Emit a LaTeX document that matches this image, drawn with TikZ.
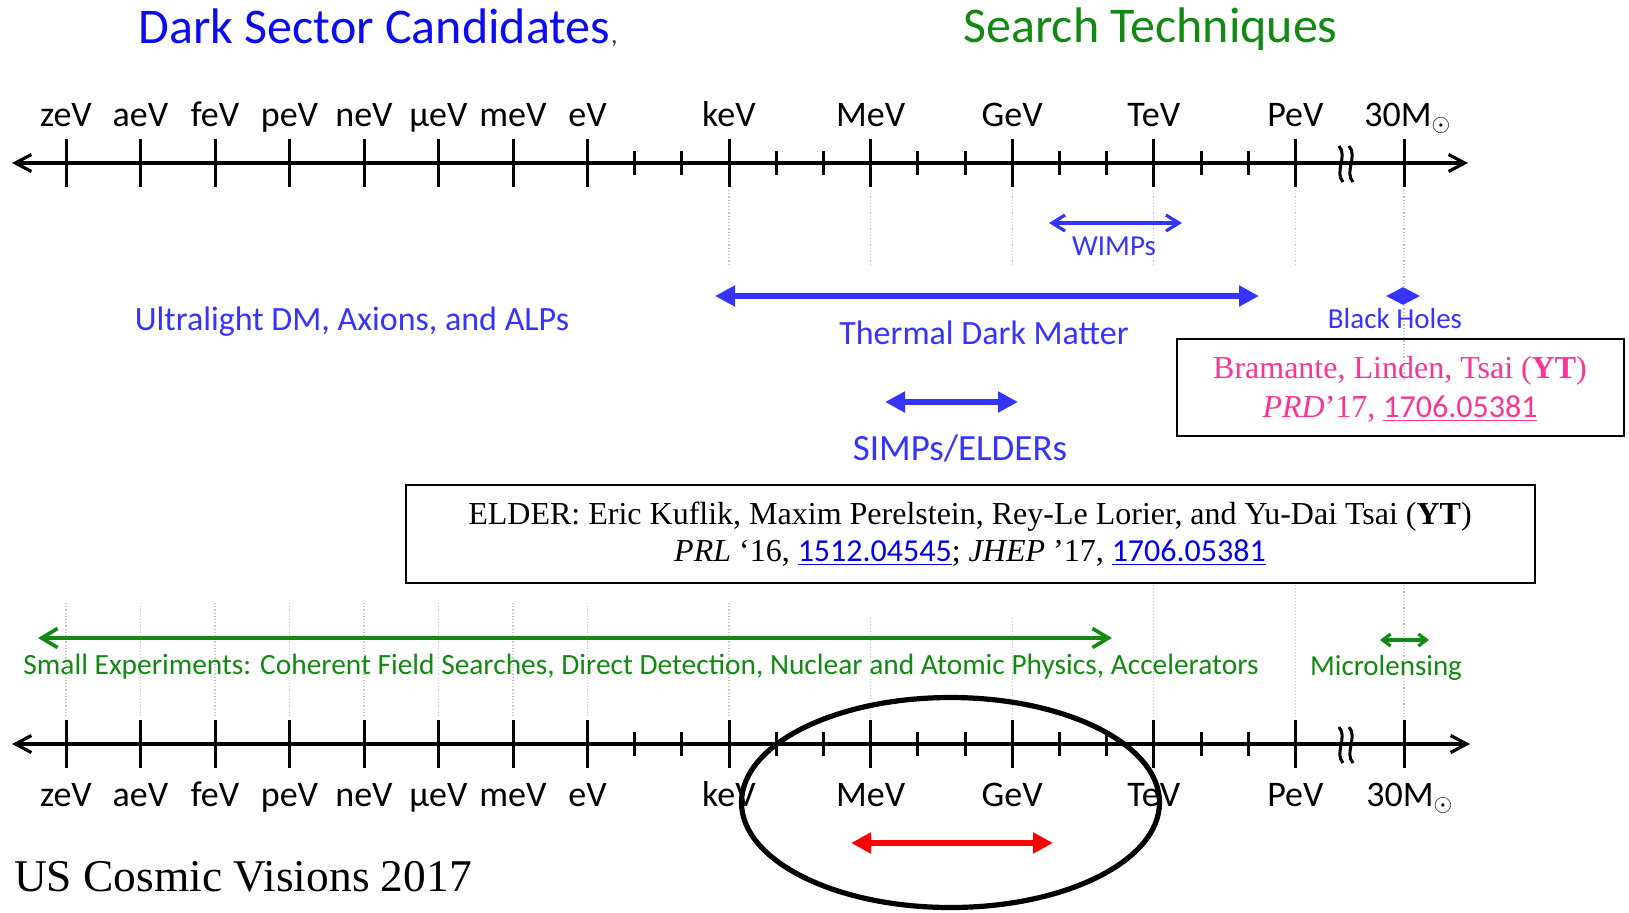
\documentclass[tikz,border=0pt]{standalone}
\usepackage{fontspec}
\setmainfont{Liberation Serif}
\newfontfamily\calibri{Carlito}
\usetikzlibrary{arrows.meta,shapes.geometric}

\definecolor{titleblue}{RGB}{12,12,240}
\definecolor{dmblue}{RGB}{52,52,252}
\definecolor{techgreen}{RGB}{18,138,18}
\definecolor{refpink}{RGB}{250,52,148}
\definecolor{linkblue}{RGB}{0,0,235}
\definecolor{guide}{RGB}{200,200,200}

\tikzset{
  axisline/.style={line width=1.6pt,
    {Straight Barb[length=8pt,width=8.5pt]}-{Straight Barb[length=8pt,width=8.5pt]}},
  tickmark/.style={line width=1.5pt},
  guideline/.style={guide, line width=0.6pt, densely dotted},
  scalelabel/.style={font=\calibri\fontsize{18}{20}\selectfont, anchor=base, inner sep=0pt},
  headline/.style={font=\calibri\fontsize{25}{30}\selectfont, anchor=base, inner sep=0pt},
  dmlabel/.style={font=\calibri\fontsize{17}{20}\selectfont, text=dmblue, anchor=base, inner sep=0pt},
  smalllabel/.style={font=\calibri\fontsize{14.5}{17}\selectfont, anchor=base, inner sep=0pt},
  thinrange/.style={line width=1.6pt,
    {Straight Barb[length=6.5pt,width=8pt]}-{Straight Barb[length=6.5pt,width=8pt]}},
  tinyrange/.style={line width=1.6pt,
    {Straight Barb[length=4pt,width=6pt]}-{Straight Barb[length=4pt,width=6pt]}},
  thickrange/.style={line width=3.4pt,
    {Triangle[length=10pt,width=10pt]}-{Triangle[length=10pt,width=10pt]}},
  refbox/.style={draw, line width=1pt, inner sep=0pt},
  reftext/.style={font=\fontsize{16}{19}\selectfont, anchor=base, inner sep=0pt},
  breakmark/.style={line width=1.5pt},
}

\begin{document}
\begin{tikzpicture}[x=0.5pt,y=-0.5pt]
\useasboundingbox (0,0) rectangle (1629,912);

% faint guide lines under the upper scale
\foreach \x in {729,870.6,1012.2,1153.8,1295.4}
  \draw[guideline] (\x,190) -- (\x,265);
\draw[guideline] (1404,190) -- (1404,380);

% faint guide lines above the lower scale
\foreach \x in {66,140.5,215,289.5,364,438.5,513,587.5,729}
  \draw[guideline] (\x,603) -- (\x,718);
\foreach \x in {870.6,1012.2}
  \draw[guideline] (\x,618) -- (\x,718);
\foreach \x in {1153.8,1295.4,1404}
  \draw[guideline] (\x,585) -- (\x,718);

% the two energy axes
\coordinate (upL) at (12,163);  \coordinate (upR) at (1468,163);
\coordinate (lowL) at (12,744); \coordinate (lowR) at (1470,744);
\draw[axisline] (upL) -- (upR);
\draw[axisline] (lowL) -- (lowR);

% decade ticks and their labels
\foreach \n/\x/\t in {zeV/66/zeV, aeV/140.5/aeV, feV/215/feV, peV/289.5/peV,
    neV/364/neV, ueV/438.5/μeV, meV/513/meV, eV/587.5/eV, keV/729/keV,
    MeV/870.6/MeV, GeV/1012.2/GeV, TeV/1153.8/TeV, PeV/1295.4/PeV} {
  \draw[tickmark] (\x,139) -- (\x,187);
  \node[scalelabel] (up-\n) at (\x,126) {\t};
  \draw[tickmark] (\x,720) -- (\x,768);
  \node[scalelabel] (low-\n) at (\x,806) {\t};
}
% intermediate ticks
\foreach \x in {634.6,681.8,776.2,823.4,917.8,965,1059.4,1106.6,1201,1248.2} {
  \draw[tickmark] (\x,151) -- (\x,175);
  \draw[tickmark] (\x,732) -- (\x,756);
}
% solar-mass tick
\draw[tickmark] (1404,139) -- (1404,187);
\draw[tickmark] (1404,720) -- (1404,768);
\node[scalelabel, anchor=base west] (up-sun) at (1364,126) {30M$_{\odot}$};
\node[scalelabel, anchor=base west] (low-sun) at (1366,806) {30M$_{\odot}$};

% axis breaks
\foreach \x in {1341,1351} {
  \draw[breakmark] (\x-2,146) .. controls (\x+7,156) and (\x-7,172) .. (\x+2,182);
  \draw[breakmark] (\x-2,727) .. controls (\x+7,737) and (\x-7,753) .. (\x+2,763);
}

% headings
\node[headline, text=titleblue] (dsc) at (374.5,43) {Dark Sector Candidates};
\node[anchor=base west, inner sep=0pt, font=\calibri\fontsize{13}{13}\selectfont, text=black!80]
  (dsc-comma) at (dsc.base east) {,};
\node[headline, text=techgreen] (tech) at (1150.5,42) {Search Techniques};

% dark sector candidates
\coordinate (wimpL) at (1049,223); \coordinate (wimpR) at (1182,223);
\draw[thinrange, dmblue] (wimpL) -- (wimpR);
\node[smalllabel, text=dmblue] (wimps) at (1114,255) {WIMPs};

\coordinate (thermL) at (715,296); \coordinate (thermR) at (1259,296);
\draw[thickrange, dmblue] (thermL) -- (thermR);
\node[dmlabel] (thermal) at (984,344) {Thermal Dark Matter};

\node[dmlabel] (ultra) at (352,330) {Ultralight DM, Axions, and ALPs};

\node[diamond, fill=dmblue, inner sep=0pt, minimum width=17pt, minimum height=9pt]
  (bh) at (1403,296) {};
\node[smalllabel, text=dmblue] (bhlabel) at (1395,328) {Black Holes};

\coordinate (simpL) at (885,402); \coordinate (simpR) at (1018,402);
\draw[thickrange, dmblue] (simpL) -- (simpR);
\node[dmlabel, font=\calibri\fontsize{18.5}{21}\selectfont] (simps) at (960,460) {SIMPs/ELDERs};

% references
\node[refbox, minimum width=223.5pt, minimum height=48.4pt] (pinkbox) at (1400.5,387.7) {};
\node[reftext, text=refpink] (pink1) at (1400,378)
  {Bramante, Linden, Tsai (\textbf{YT})};
\node[reftext, text=refpink] (pink2) at (1400,417)
  {\textit{PRD}’17, {\calibri\underline{1706.05381}}};

\node[refbox, minimum width=564.5pt, minimum height=49pt] (elderbox) at (970.5,534) {};
\node[reftext] (elder1) at (970,524)
  {ELDER: Eric Kuflik, Maxim Perelstein, Rey-Le Lorier, and Yu-Dai Tsai (\textbf{YT})};
\node[reftext] (elder2) at (970,561)
  {\textit{PRL} ‘16, {\calibri\color{linkblue}\underline{1512.04545}}; \textit{JHEP} ’17, {\calibri\color{linkblue}\underline{1706.05381}}};

% search techniques
\coordinate (smallL) at (38,638); \coordinate (smallR) at (1112,638);
\draw[techgreen, line width=1.8pt,
  {Straight Barb[length=8pt,width=9.5pt]}-{Straight Barb[length=8pt,width=9.5pt]}] (smallL) -- (smallR);
\node[smalllabel, text=techgreen, font=\calibri\fontsize{14.7}{17}\selectfont] (smallexp) at (641,674)
  {Small Experiments: Coherent Field Searches, Direct Detection, Nuclear and Atomic Physics, Accelerators};

\coordinate (microL) at (1380,640); \coordinate (microR) at (1429,640);
\draw[tinyrange, techgreen] (microL) -- (microR);
\node[smalllabel, text=techgreen] (micro) at (1386,675) {Microlensing};

% highlighted MeV--GeV window
\node[ellipse, draw, line width=2.6pt, inner sep=0pt, minimum width=209pt, minimum height=105pt]
  (window) at (950.5,802.5) {};
\coordinate (redL) at (851,843); \coordinate (redR) at (1053,843);
\draw[thickrange, red] (redL) -- (redR);

% footer
\node[anchor=base, inner sep=0pt, font=\fontsize{22.7}{26}\selectfont] (footer) at (243,891)
  {US Cosmic Visions 2017};
\end{tikzpicture}
\end{document}
